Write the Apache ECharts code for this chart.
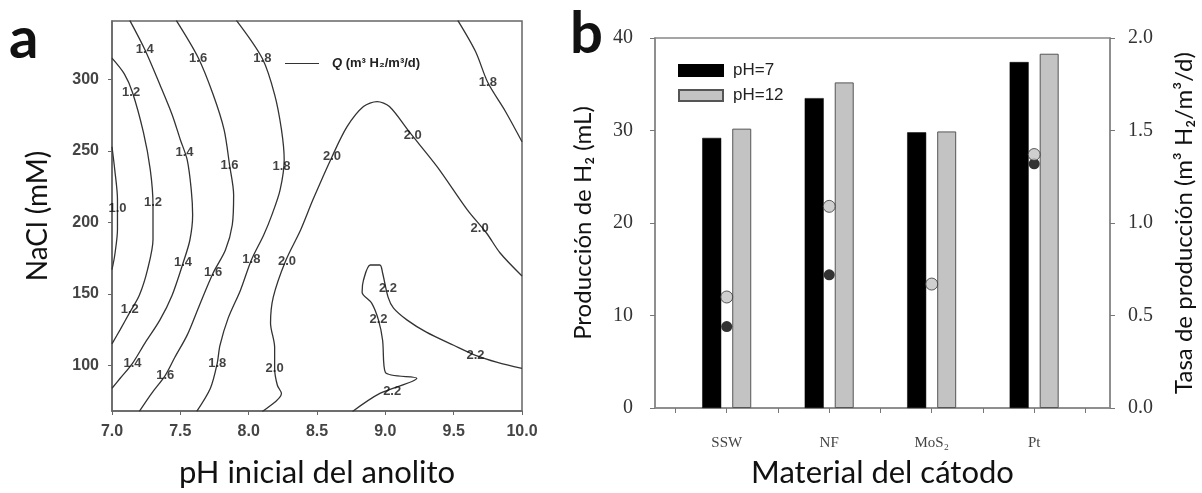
<!DOCTYPE html>
<html><head><meta charset="utf-8">
<script src="https://cdn.jsdelivr.net/npm/echarts@6/dist/echarts.min.js"></script>
<style>html,body{margin:0;padding:0;background:#fff}#c{width:1202px;height:493px}</style>
</head><body><div id="c"></div>
<script>
// ---------- Panel a: contour lines, points as [pH, NaCl (mM)] ----------
const contour10 = [[7.00,253],[7.02,237],[7.04,216],[7.04,195],[7.02,177],[7.00,167]];
const contour12 = [[7.00,315],[7.09,304],[7.15,291],[7.23,263],[7.28,237],[7.30,212],[7.30,188],[7.26,167],[7.20,149],[7.13,137],[7.06,125],[7.00,115]];
const contour14 = [[7.13,341.4],[7.24,321],[7.35,296.5],[7.44,275.4],[7.50,257.9],[7.55,243.9],[7.58,222.8],[7.59,205.3],[7.57,187.7],[7.52,171.6],[7.44,149.1],[7.35,131.6],[7.24,115.4],[7.15,101.4],[7.06,90.9],[7.00,83.9]];
const contour16 = [[7.47,341.4],[7.63,315.4],[7.74,289.5],[7.82,264.9],[7.86,240.3],[7.89,219.3],[7.88,198.2],[7.83,180.7],[7.74,164.6],[7.64,142.1],[7.55,121.1],[7.46,105.6],[7.39,93.0],[7.29,80.3],[7.20,67.7]];
const contour18 = [[7.91,341.4],[8.10,314.7],[8.19,289.5],[8.24,264.9],[8.26,243.9],[8.23,222.8],[8.17,205.3],[8.11,191.2],[8.02,173.7],[7.94,152.6],[7.85,133.0],[7.79,114.0],[7.77,101.4],[7.72,83.9],[7.62,67.7]];
const contour18b = [[9.53,341.4],[9.66,319.6],[9.75,297.9],[9.88,277.5],[10.0,256.5]];
const contour20 = [[8.10,67.7],[8.24,80.3],[8.21,86.0],[8.19,97.9],[8.19,112.6],[8.16,129.5],[8.18,147.7],[8.27,173.0],[8.38,194.7],[8.47,215.8],[8.61,246.0],[8.72,267.0],[8.84,281.1],[8.94,284.6],[9.03,281.1],[9.18,262.8],[9.38,238.9],[9.60,208.8],[9.74,192.6],[9.84,178.6],[10.0,162.5]];
const contour22 = [[8.76,67.7],[8.96,80.3],[9.23,90.9],[9.00,95.1],[8.98,117.5],[8.95,131.6],[8.90,143.5],[8.83,151.2],[8.84,159.6],[8.89,170.2],[8.96,170.2],[8.98,164.6],[9.02,147.7],[9.06,140.0],[9.16,131.6],[9.30,123.2],[9.50,114.0],[9.66,107.0],[9.82,102.1],[10.0,97.9]];
const contours = [contour10, contour12, contour14, contour16, contour18, contour18b, contour20, contour22];

const labelText = ['1.4','1.6','1.8','1.2','1.4','1.6','1.8','1.0','1.2','1.4','1.6','1.8','2.0','1.2','1.4','1.6','1.8','2.0','2.0','2.0','2.0','1.8','2.2','2.2','2.2','2.2'];
const labelPH   = [7.24,7.63,8.10,7.14,7.53,7.86,8.24,7.04,7.30,7.52,7.74,8.02,8.28,7.13,7.15,7.39,7.77,8.19,8.61,9.20,9.69,9.75,9.02,8.95,9.66,9.05];
const labelNaCl = [321,315,315,291,249,240,239,210,214,172,165,174,173,139,101,93,101,98,246,261,196,298,154,132,107,82];

const naclTicks = [100,150,200,250,300];

// ---------- Panel b ----------
const categories = ['SSW','NF','MoS\u2082','Pt'];
const categoryPos = [1,2,3,4];
const prodPH7  = [29.2,33.5,29.8,37.4];
const prodPH12 = [30.2,35.2,29.9,38.3];
const ratePH7  = [0.44,0.72,null,1.32];
const ratePH12 = [0.60,1.09,0.67,1.37];
const catTicks = [0.5,1,1.5,2,2.5,3,3.5,4,4.5];

const chart = echarts.init(document.getElementById('c'), null, {renderer:'canvas'});

const contourSeries = contours.map(c => ({
  type:'line', name:'Q', xAxisIndex:0, yAxisIndex:0, data:c,
  showSymbol:false, smooth:0.3, color:'#333',
  lineStyle:{color:'#333', width:1.3}, silent:true, z:2
}));

const pts = (xs, ys) => xs.map((x,i)=>[x, ys[i]]).filter(p => p[1] !== null);

const option = {
  animation:false,
  backgroundColor:'#fff',
  grid:[
    {left:112, top:21, width:410, height:390, show:true, borderColor:'#666', borderWidth:1.5, backgroundColor:'transparent'},
    {left:655, top:38, width:455, height:370, show:true, borderColor:'#888', borderWidth:1.5, backgroundColor:'transparent'}
  ],
  legend:[
    {data:['Q'], left:280, top:52, icon:'rect', itemWidth:34, itemHeight:1,
     formatter:()=>'{q|Q} (m\u00b3 H\u2082/m\u00b3/d)',
     textStyle:{fontFamily:'Liberation Sans', fontWeight:'bold', fontSize:13, color:'#222', padding:[0,0,0,8],
       rich:{q:{fontFamily:'Liberation Sans', fontWeight:'bold', fontStyle:'italic', fontSize:13, color:'#222'}}}},
    {data:['pH=7','pH=12'], orient:'vertical', left:673, top:57, icon:'rect', itemWidth:44, itemHeight:11, itemGap:8,
     textStyle:{fontFamily:'Liberation Sans', fontSize:17, color:'#222', padding:[0,0,0,5]}}
  ],
  xAxis:[
    {gridIndex:0, type:'value', min:7, max:10, interval:0.5,
     name:'pH inicial del anolito', nameLocation:'middle', nameGap:46,
     nameTextStyle:{fontFamily:'Lato', fontSize:31, color:'#111'},
     axisLine:{lineStyle:{color:'#666', width:1.5}},
     axisTick:{length:4, lineStyle:{color:'#666'}},
     axisLabel:{formatter:v=>v.toFixed(1), fontFamily:'Liberation Sans', fontWeight:'bold', fontSize:16, color:'#444', margin:13},
     splitLine:{show:false}},
    {gridIndex:1, type:'value', min:0.3, max:4.74,
     name:'Material del c\u00e1todo', nameLocation:'middle', nameGap:49,
     nameTextStyle:{fontFamily:'Lato', fontSize:31, color:'#111'},
     axisLine:{lineStyle:{color:'#888', width:1.5}},
     axisTick:{customValues:catTicks, length:5, lineStyle:{color:'#777'}},
     axisLabel:{customValues:categoryPos, formatter:v=>categories[Math.round(v)-1], fontFamily:'Liberation Serif', fontSize:15, color:'#444', margin:28},
     splitLine:{show:false}}
  ],
  yAxis:[
    {gridIndex:0, type:'value', min:68, max:341,
     name:'NaCl (mM)', nameLocation:'middle', nameGap:60,
     nameTextStyle:{fontFamily:'Lato', fontSize:28, color:'#111'},
     axisLine:{show:true, lineStyle:{color:'#666', width:1.5}},
     axisTick:{show:true, customValues:naclTicks, length:4, lineStyle:{color:'#666'}},
     axisLabel:{customValues:naclTicks, fontFamily:'Liberation Sans', fontWeight:'bold', fontSize:16, color:'#444', margin:13},
     splitLine:{show:false}},
    {gridIndex:1, type:'value', min:0, max:40, interval:10, position:'left',
     name:'Producci\u00f3n de H\u2082 (mL)', nameLocation:'middle', nameGap:60,
     nameTextStyle:{fontFamily:'Lato', fontSize:24, color:'#111'},
     axisLine:{show:true, lineStyle:{color:'#888', width:1.5}},
     axisTick:{show:true, length:5, lineStyle:{color:'#777'}},
     axisLabel:{fontFamily:'Liberation Serif', fontSize:20, color:'#333', margin:22},
     splitLine:{show:false}},
    {gridIndex:1, type:'value', min:0, max:2, interval:0.5, position:'right',
     name:'Tasa de producci\u00f3n (m\u00b3 H\u2082/m\u00b3/d)', nameLocation:'middle', nameGap:62,
     nameTextStyle:{fontFamily:'Lato', fontSize:24, color:'#111'},
     axisLine:{show:true, lineStyle:{color:'#888', width:1.5}},
     axisTick:{show:true, length:5, lineStyle:{color:'#777'}},
     axisLabel:{formatter:v=>v.toFixed(1), fontFamily:'Liberation Serif', fontSize:20, color:'#333', margin:18},
     splitLine:{show:false}}
  ],
  graphic:[
    {type:'text', left:9, top:10, style:{text:'a', font:'bold 58px Lato', fill:'#111'}},
    {type:'text', left:570, top:5, style:{text:'b', font:'bold 58px Lato', fill:'#111'}}
  ],
  series:[
    ...contourSeries,
    {type:'scatter', name:'niveles', xAxisIndex:0, yAxisIndex:0, symbolSize:1, itemStyle:{color:'rgba(0,0,0,0)'},
     data:labelPH.map((x,i)=>[x, labelNaCl[i], labelText[i]]),
     label:{show:true, position:'inside', formatter:p=>p.value[2], fontFamily:'Liberation Sans', fontWeight:'bold', fontSize:13, color:'#111'},
     silent:true, z:5},
    {type:'bar', name:'pH=7', xAxisIndex:1, yAxisIndex:1, data:pts(categoryPos, prodPH7),
     barWidth:19, barGap:'58%', itemStyle:{color:'#000', borderColor:'#000', borderWidth:0.5}},
    {type:'bar', name:'pH=12', xAxisIndex:1, yAxisIndex:1, data:pts(categoryPos, prodPH12),
     barWidth:19, barGap:'58%', itemStyle:{color:'#c3c3c3', borderColor:'#555', borderWidth:1}},
    {type:'scatter', name:'Tasa pH=7', xAxisIndex:1, yAxisIndex:2, data:pts(categoryPos, ratePH7),
     symbol:'circle', symbolSize:11, itemStyle:{color:'#000'}, z:6},
    {type:'scatter', name:'Tasa pH=12', xAxisIndex:1, yAxisIndex:2, data:pts(categoryPos, ratePH12),
     symbol:'circle', symbolSize:12, itemStyle:{color:'#c3c3c3', borderColor:'#333', borderWidth:1}, z:7}
  ]
};
chart.setOption(option);
</script></body></html>
